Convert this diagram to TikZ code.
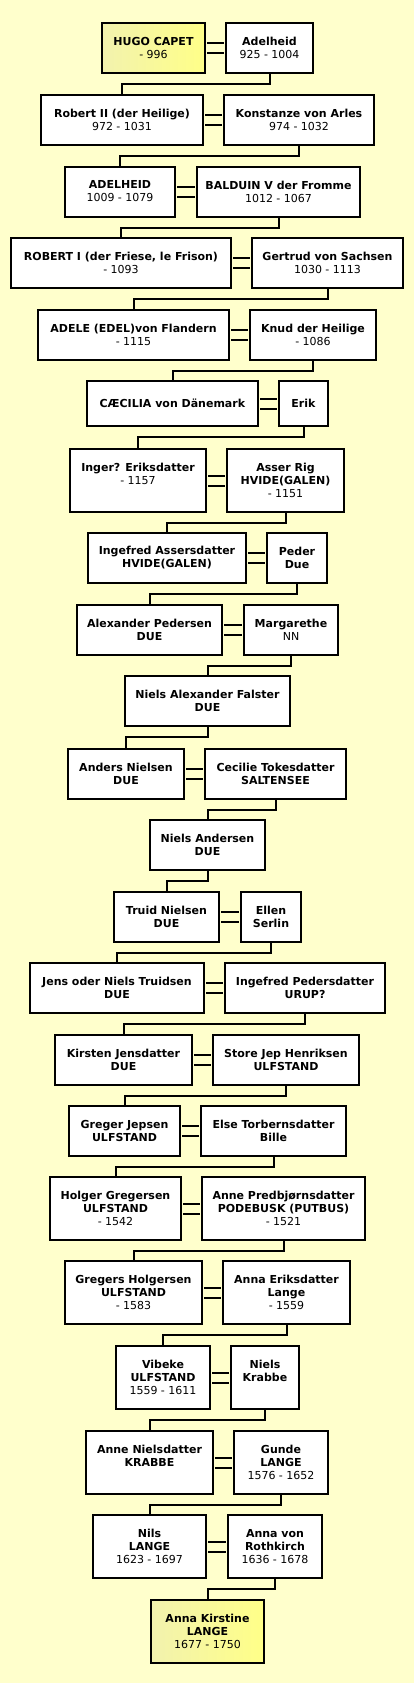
\documentclass[tikz,border=0pt]{standalone}
\usepackage{fontspec}
\setmainfont{DejaVu Sans}
\usepackage{xcolor}
\definecolor{Paper}{HTML}{FFFFCC}
\definecolor{Ink}{HTML}{000000}
\definecolor{Gold}{HTML}{FFFF88}
\definecolor{GoldLight}{HTML}{F2F2AE}
\tikzset{
  person/.style={draw=Ink,fill=white,line width=2pt,align=center,inner sep=0pt,text=Ink,font=\fontsize{11}{13}\selectfont},
  proband/.style={person,left color=GoldLight,right color=Gold},
  oneline/.style={minimum height=45pt},
  twoline/.style={minimum height=50pt},
  threeline/.style={minimum height=63pt},
  wed/.style={draw=Ink,line width=2pt,double=Paper,double distance=8pt,shorten <=1pt,shorten >=1pt},
  child/.style={draw=Ink,line width=2pt}
}
\begin{document}
\begin{tikzpicture}[x=1pt,y=-1pt]
\fill[Paper] (0,0) rectangle (414,1683);
\useasboundingbox (0,0) rectangle (414,1683);
\node[proband,twoline,minimum width=103pt] (hugo) at (153.5,48) {\textbf{HUGO CAPET}\\- 996};
\node[person,twoline,minimum width=87pt] (adel1) at (269.5,48) {\textbf{Adelheid}\\925 - 1004};
\node[person,twoline,minimum width=162pt] (robert2) at (122,120) {\textbf{Robert II (der Heilige)}\\972 - 1031};
\node[person,twoline,minimum width=150pt] (konst) at (299,120) {\textbf{Konstanze von Arles}\\974 - 1032};
\node[person,twoline,minimum width=110pt] (adelheid) at (120,191.5) {\textbf{ADELHEID}\\1009 - 1079};
\node[person,twoline,minimum width=163pt] (balduin) at (278.5,191.5) {\textbf{BALDUIN V der Fromme}\\1012 - 1067};
\node[person,twoline,minimum width=220pt] (robert1) at (121,263) {\textbf{ROBERT I (der Friese, le Frison)}\\- 1093};
\node[person,twoline,minimum width=151pt] (gertrud) at (327.5,263) {\textbf{Gertrud von Sachsen}\\1030 - 1113};
\node[person,twoline,minimum width=191pt] (adele) at (133.5,335) {\textbf{ADELE (EDEL)von Flandern}\\- 1115};
\node[person,twoline,minimum width=126pt] (knud) at (313,335) {\textbf{Knud der Heilige}\\- 1086};
\node[person,oneline,minimum width=171pt] (caecilia) at (172.5,403.5) {\textbf{CÆCILIA von Dänemark}};
\node[person,oneline,minimum width=49pt] (erik) at (303.5,403.5) {\textbf{Erik}};
\node[person,threeline,minimum width=136pt] (inger) at (138,480.5) {\textbf{Inger? Eriksdatter}\\- 1157\\\mbox{}};
\node[person,threeline,minimum width=117pt] (asser) at (285.5,480.5) {\textbf{Asser Rig}\\\textbf{HVIDE(GALEN)}\\- 1151};
\node[person,twoline,minimum width=158pt] (ingefred) at (167,557.5) {\textbf{Ingefred Assersdatter}\\\textbf{HVIDE(GALEN)}};
\node[person,twoline,minimum width=60pt] (peder) at (297,557.5) {\textbf{Peder}\\\textbf{Due}};
\node[person,twoline,minimum width=145pt] (alexander) at (149.5,629.5) {\textbf{Alexander Pedersen}\\\textbf{DUE}};
\node[person,twoline,minimum width=94pt] (margarethe) at (291,629.5) {\textbf{Margarethe}\\NN};
\node[person,twoline,minimum width=165pt] (nielsalex) at (207.5,701) {\textbf{Niels Alexander Falster}\\\textbf{DUE}};
\node[person,twoline,minimum width=116pt] (anders) at (126,773.5) {\textbf{Anders Nielsen}\\\textbf{DUE}};
\node[person,twoline,minimum width=141pt] (cecilie) at (275.5,773.5) {\textbf{Cecilie Tokesdatter}\\\textbf{SALTENSEE}};
\node[person,twoline,minimum width=115pt] (nielsand) at (207.5,844.5) {\textbf{Niels Andersen}\\\textbf{DUE}};
\node[person,twoline,minimum width=105pt] (truid) at (166.5,916.5) {\textbf{Truid Nielsen}\\\textbf{DUE}};
\node[person,twoline,minimum width=60pt] (ellen) at (271,916.5) {\textbf{Ellen}\\\textbf{Serlin}};
\node[person,twoline,minimum width=174pt] (jens) at (117,988) {\textbf{Jens oder Niels Truidsen}\\\textbf{DUE}};
\node[person,twoline,minimum width=160pt] (ingefredp) at (305,988) {\textbf{Ingefred Pedersdatter}\\\textbf{URUP?}};
\node[person,twoline,minimum width=137pt] (kirsten) at (123.5,1060) {\textbf{Kirsten Jensdatter}\\\textbf{DUE}};
\node[person,twoline,minimum width=146pt] (storejep) at (286,1060) {\textbf{Store Jep Henriksen}\\\textbf{ULFSTAND}};
\node[person,twoline,minimum width=111pt] (greger) at (124.5,1130.5) {\textbf{Greger Jepsen}\\\textbf{ULFSTAND}};
\node[person,twoline,minimum width=145pt] (elset) at (273.5,1130.5) {\textbf{Else Torbernsdatter}\\\textbf{Bille}};
\node[person,threeline,minimum width=131pt] (holger) at (115.5,1208.5) {\textbf{Holger Gregersen}\\\textbf{ULFSTAND}\\- 1542};
\node[person,threeline,minimum width=163pt] (annep) at (283.5,1208.5) {\textbf{Anne Predbjørnsdatter}\\\textbf{PODEBUSK (PUTBUS)}\\- 1521};
\node[person,threeline,minimum width=137pt] (gregers) at (133.5,1292.5) {\textbf{Gregers Holgersen}\\\textbf{ULFSTAND}\\- 1583};
\node[person,threeline,minimum width=127pt] (annae) at (286.5,1292.5) {\textbf{Anna Eriksdatter}\\\textbf{Lange}\\- 1559};
\node[person,threeline,minimum width=94pt] (vibeke) at (163,1377.5) {\textbf{Vibeke}\\\textbf{ULFSTAND}\\1559 - 1611};
\node[person,threeline,minimum width=68pt] (nielsk) at (265,1377.5) {\textbf{Niels}\\\textbf{Krabbe}\\\mbox{}};
\node[person,threeline,minimum width=127pt] (annen) at (149.5,1462.5) {\textbf{Anne Nielsdatter}\\\textbf{KRABBE}\\\mbox{}};
\node[person,threeline,minimum width=94pt] (gunde) at (281,1462.5) {\textbf{Gunde}\\\textbf{LANGE}\\1576 - 1652};
\node[person,threeline,minimum width=113pt] (nils) at (149.5,1546.5) {\textbf{Nils}\\\textbf{LANGE}\\1623 - 1697};
\node[person,threeline,minimum width=94pt] (annavon) at (275,1546.5) {\textbf{Anna von}\\\textbf{Rothkirch}\\1636 - 1678};
\node[proband,threeline,minimum width=113pt] (annak) at (207.5,1631.5) {\textbf{Anna Kirstine}\\\textbf{LANGE}\\1677 - 1750};
\draw[wed] (hugo) -- (adel1);
\draw[wed] (robert2) -- (konst);
\draw[wed] (adelheid) -- (balduin);
\draw[wed] (robert1) -- (gertrud);
\draw[wed] (adele) -- (knud);
\draw[wed] (caecilia) -- (erik);
\draw[wed] (inger) -- (asser);
\draw[wed] (ingefred) -- (peder);
\draw[wed] (alexander) -- (margarethe);
\draw[wed] (anders) -- (cecilie);
\draw[wed] (truid) -- (ellen);
\draw[wed] (jens) -- (ingefredp);
\draw[wed] (kirsten) -- (storejep);
\draw[wed] (greger) -- (elset);
\draw[wed] (holger) -- (annep);
\draw[wed] (gregers) -- (annae);
\draw[wed] (vibeke) -- (nielsk);
\draw[wed] (annen) -- (gunde);
\draw[wed] (nils) -- (annavon);
\draw[child] (adel1.south) -- ++(0,10) -| (robert2.north);
\draw[child] (konst.south) -- ++(0,10) -| (adelheid.north);
\draw[child] (balduin.south) -- ++(0,10) -| (robert1.north);
\draw[child] (gertrud.south) -- ++(0,10) -| (adele.north);
\draw[child] (knud.south) -- ++(0,10) -| (caecilia.north);
\draw[child] (erik.south) -- ++(0,10) -| (inger.north);
\draw[child] (asser.south) -- ++(0,10) -| (ingefred.north);
\draw[child] (peder.south) -- ++(0,10) -| (alexander.north);
\draw[child] (margarethe.south) -- ++(0,10) -| (nielsalex.north);
\draw[child] (nielsalex.south) -- ++(0,10) -| (anders.north);
\draw[child] (cecilie.south) -- ++(0,10) -| (nielsand.north);
\draw[child] (nielsand.south) -- ++(0,10) -| (truid.north);
\draw[child] (ellen.south) -- ++(0,10) -| (jens.north);
\draw[child] (ingefredp.south) -- ++(0,10) -| (kirsten.north);
\draw[child] (storejep.south) -- ++(0,10) -| (greger.north);
\draw[child] (elset.south) -- ++(0,10) -| (holger.north);
\draw[child] (annep.south) -- ++(0,10) -| (gregers.north);
\draw[child] (annae.south) -- ++(0,10) -| (vibeke.north);
\draw[child] (nielsk.south) -- ++(0,10) -| (annen.north);
\draw[child] (gunde.south) -- ++(0,10) -| (nils.north);
\draw[child] (annavon.south) -- ++(0,10) -| (annak.north);
\end{tikzpicture}
\end{document}
